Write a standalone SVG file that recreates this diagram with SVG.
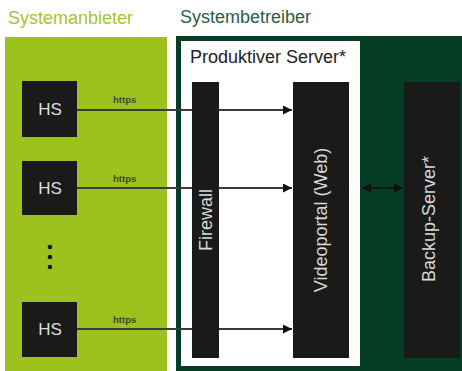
<svg xmlns="http://www.w3.org/2000/svg" width="462" height="371" viewBox="0 0 462 371">
<defs>
<style>
text{font-family:"Liberation Sans",Arial,sans-serif}
.title{font-size:18px}
.bar{fill:#1a1a1b}
.bartxt{font-size:18px;fill:#d8d8d8;text-anchor:middle}
.hs{fill:#1a1a1b}
.hstxt{font-size:17px;fill:#dcdcdc;text-anchor:middle}
.conn{stroke:#3a3a3a;stroke-width:2;fill:none}
.lbl{font-size:9.5px;font-weight:bold;fill:#3f4a25}
</style>
<marker id="ah" viewBox="0 0 10 10" refX="10" refY="5" markerWidth="10" markerHeight="9" markerUnits="userSpaceOnUse" orient="auto-start-reverse">
<path d="M0,0 L10,5 L0,10 z" fill="#111"/>
</marker>
</defs>
<rect width="462" height="371" fill="#ffffff"/>
<g id="systemanbieter">
<rect x="5" y="37" width="162" height="334" fill="#9dc11d"/>
<text class="title" x="8" y="24" fill="#a4c52f">Systemanbieter</text>
</g>
<g id="systembetreiber">
<rect x="176" y="36" width="286" height="335" fill="#043d24"/>
<text class="title" x="180" y="23" fill="#2a5e40">Systembetreiber</text>
</g>
<g id="produktiver-server">
<rect x="181" y="41" width="179" height="325" fill="#ffffff"/>
<text class="title" x="190" y="63" fill="#222">Produktiver Server*</text>
</g>
<g id="connectors">
<line class="conn" x1="77" y1="110" x2="292" y2="110" marker-end="url(#ah)"/>
<line class="conn" x1="77" y1="188" x2="292" y2="188" marker-end="url(#ah)"/>
<line class="conn" x1="77" y1="329" x2="292" y2="329" marker-end="url(#ah)"/>
<line x1="362" y1="188" x2="403" y2="188" stroke="#111" stroke-width="1.5" marker-start="url(#ah)" marker-end="url(#ah)"/>
<text class="lbl" x="113" y="103">https</text>
<text class="lbl" x="113" y="182">https</text>
<text class="lbl" x="113" y="323">https</text>
</g>
<g id="hs1">
<rect class="hs" x="22" y="81" width="55" height="56"/>
<text class="hstxt" x="50" y="115">HS</text>
</g>
<g id="hs2">
<rect class="hs" x="22" y="161" width="55" height="54"/>
<text class="hstxt" x="50" y="194">HS</text>
</g>
<g id="dots">
<circle cx="50" cy="247" r="2.3" fill="#1a1a1b"/>
<circle cx="50" cy="257" r="2.3" fill="#1a1a1b"/>
<circle cx="50" cy="267" r="2.3" fill="#1a1a1b"/>
</g>
<g id="hs3">
<rect class="hs" x="22" y="302" width="55" height="55"/>
<text class="hstxt" x="50" y="335">HS</text>
</g>
<g id="firewall">
<rect class="bar" x="192" y="82" width="27" height="276"/>
<text class="bartxt" transform="translate(212,220) rotate(-90)">Firewall</text>
</g>
<g id="videoportal">
<rect class="bar" x="293" y="82" width="56" height="276"/>
<text class="bartxt" transform="translate(327,220) rotate(-90)">Videoportal (Web)</text>
</g>
<g id="backup-server">
<rect class="bar" x="404" y="82" width="56" height="276"/>
<text class="bartxt" transform="translate(435,219) rotate(-90)">Backup-Server*</text>
</g>
</svg>
